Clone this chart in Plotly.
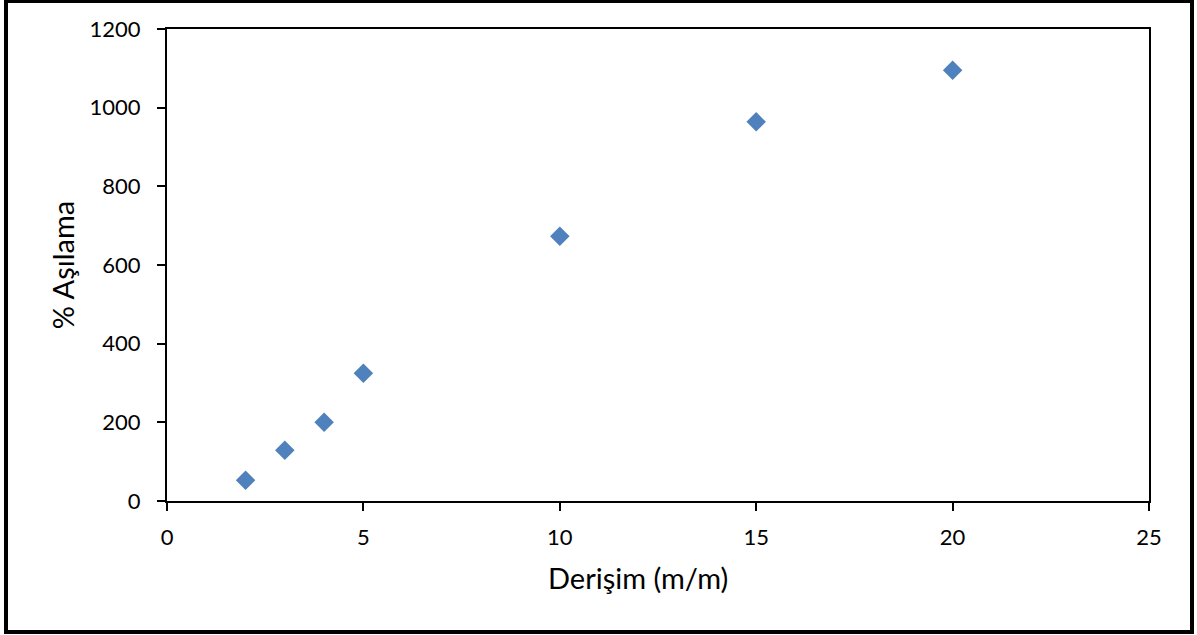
import plotly.graph_objects as go

concentration = [2, 3, 4, 5, 10, 15, 20]
grafting = [53, 129, 200, 325, 673, 964, 1095]

x_ticks = [0, 5, 10, 15, 20, 25]
y_ticks = [0, 200, 400, 600, 800, 1000, 1200]

fig = go.Figure()
fig.add_trace(go.Scatter(
    x=concentration, y=grafting, mode="markers",
    marker=dict(symbol="diamond", size=15, color="#4F81BD",
                line=dict(width=0)),
    showlegend=False,
))

font_family = "Lato, 'Open Sans', sans-serif"
fig.update_layout(
    width=1197, height=635,
    margin=dict(l=167, r=48, t=29, b=134),
    paper_bgcolor="white", plot_bgcolor="white",
    font=dict(family=font_family, size=22, color="black"),
    xaxis=dict(
        range=[0, 25], tickvals=x_ticks, showgrid=False, zeroline=False,
        showline=True, linecolor="black", linewidth=2, mirror=True,
        ticks="outside", ticklen=8, tickwidth=2, tickcolor="black",
        ticklabelstandoff=8,
    ),
    yaxis=dict(
        range=[0, 1200], tickvals=y_ticks, showgrid=False, zeroline=False,
        showline=True, linecolor="black", linewidth=2, mirror=True,
        ticks="outside", ticklen=8, tickwidth=2, tickcolor="black",
        ticklabelstandoff=12,
        title=dict(text="% Aşılama", font=dict(size=29), standoff=6),
    ),
    annotations=[dict(text="Derişim (m/m)", xref="paper", yref="paper",
                      x=471/982, y=-76/472, xanchor="center", yanchor="middle",
                      showarrow=False, font=dict(size=29))],
    shapes=[dict(type="rect", xref="paper", yref="paper",
                 x0=-161/982, x1=1+43/982, y0=-131/472, y1=1+28/472,
                 line=dict(color="black", width=4))],
)

fig.write_html(
    "out.html",
    config={"displayModeBar": False},
    post_script="document.body.style.margin='0';document.body.style.padding='0';",
)
